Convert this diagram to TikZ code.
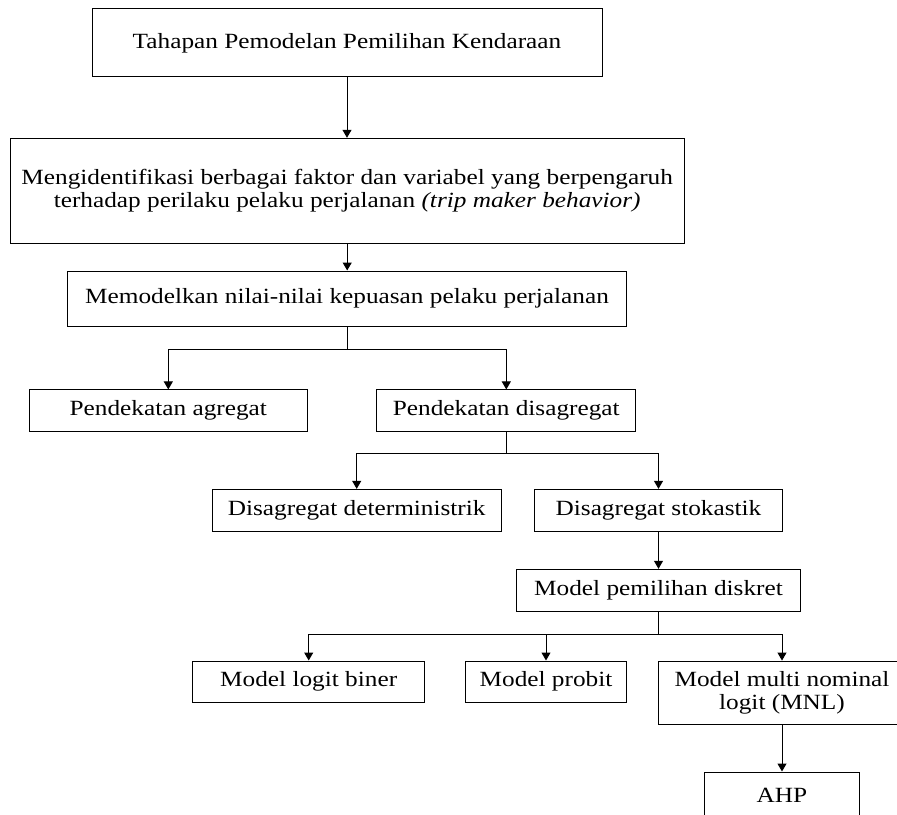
\documentclass[tikz,border=0pt]{standalone}
\usepackage{fontspec}
\setmainfont[FakeStretch=1.165]{Liberation Serif}
\usetikzlibrary{arrows.meta}
\begin{document}
\begin{tikzpicture}[x=1pt,y=-1pt,
  every node/.style={font=\fontsize{21.7}{23}\selectfont},
  box/.style={draw=black, line width=1pt, inner sep=0pt, align=center, fill=white},
  link/.style={draw=black, line width=1pt},
  arr/.style={link, -{Triangle[width=9pt,length=8pt]}}]
\clip (0,0) rectangle (897,814);
\fill[white] (0,0) rectangle (897,814);
% boxes
\node[box, minimum width=510pt, minimum height=67.7pt] (b1) at (347,42.8) {Tahapan Pemodelan Pemilihan Kendaraan};
\node[box, minimum width=674.3pt, minimum height=105pt] (b2) at (347.2,190.8) {Mengidentifikasi berbagai faktor dan variabel yang berpengaruh\\terhadap perilaku pelaku perjalanan \textit{(trip maker behavior)}};
\node[box, minimum width=558.6pt, minimum height=55pt] (b3) at (347,298.5) {Memodelkan nilai-nilai kepuasan pelaku perjalanan};
\node[box, minimum width=277.4pt, minimum height=41.7pt] (b4) at (168.3,410.8) {Pendekatan agregat};
\node[box, minimum width=259.3pt, minimum height=41.7pt] (b5) at (506.3,410.8) {Pendekatan disagregat};
\node[box, minimum width=289.3pt, minimum height=41.7pt] (b6) at (356.7,510.2) {Disagregat deterministrik};
\node[box, minimum width=248.4pt, minimum height=41.7pt] (b7) at (658.5,510.2) {Disagregat stokastik};
\node[box, minimum width=284.7pt, minimum height=42pt] (b8) at (658.5,590.3) {Model pemilihan diskret};
\node[box, minimum width=231.6pt, minimum height=41pt] (b9) at (308.7,681.5) {Model logit biner};
\node[box, minimum width=161pt, minimum height=41pt] (b10) at (546,681.5) {Model probit};
\node[box, minimum width=247.4pt, minimum height=63.3pt] (b11) at (782,692.7) {Model multi nominal\\logit (MNL)};
\node[box, minimum width=154.6pt, minimum height=46pt] (b12) at (782,795) {AHP};
% junctions
\coordinate (j1) at (347,349);
\coordinate (j2) at (506.3,453.3);
\coordinate (j3) at (658.5,634.3);
% connectors
\draw[arr] (b1.south) -- (b1.south |- b2.north);
\draw[arr] (b2.south) -- (b2.south |- b3.north);
\draw[link] (b3.south) -- (b3.south |- j1);
\draw[arr] (j1) -| (b4.north);
\draw[arr] (j1) -| (b5.north);
\draw[link] (b5.south) -- (j2);
\draw[arr] (j2) -| (b6.north);
\draw[arr] (j2) -| (b7.north);
\draw[arr] (b7.south) -- (b7.south |- b8.north);
\draw[link] (b8.south) -- (j3);
\draw[arr] (j3) -| (b9.north);
\draw[arr] (j3) -| (b10.north);
\draw[arr] (j3) -| (b11.north);
\draw[arr] (b11.south) -- (b12.north);
\end{tikzpicture}
\end{document}
